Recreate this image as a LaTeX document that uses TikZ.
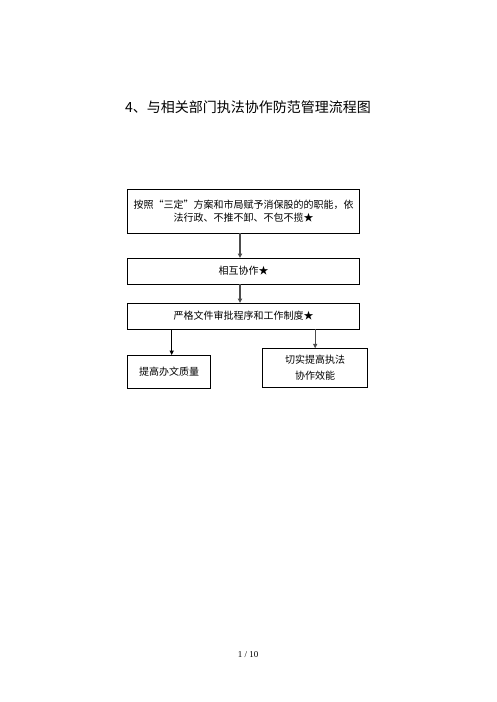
\documentclass[tikz,border=0pt]{standalone}
\usepackage{fontspec}
\setmainfont{Noto Sans CJK SC}
\newfontfamily\pagefont{Liberation Serif}
\usetikzlibrary{arrows.meta}
\tikzset{
  box/.style={draw=black, line width=0.9pt, inner sep=0pt, outer sep=0pt, align=center,
    font=\fontsize{10}{13.4}\selectfont},
  conn/.style={draw=black!70, line width=1.2pt, -{Triangle[length=4.5pt,width=4.2pt]}},
}
\begin{document}
\begin{tikzpicture}[x=1pt,y=-1pt]
\useasboundingbox[fill=white] (0,0) rectangle (496,702);
\node[font=\fontsize{14}{16}\selectfont] (title) at (248,107) {4、与相关部门执法协作防范管理流程图};
\node[box, minimum width=232pt, minimum height=44pt] (b1) at (243.7,211) {按照“三定”方案和市局赋予消保股的的职能，依\\法行政、不推不卸、不包不揽★};
\node[box, minimum width=232pt, minimum height=26pt] (b2) at (243.7,271) {相互协作★};
\node[box, minimum width=232pt, minimum height=26pt] (b3) at (243.7,316) {严格文件审批程序和工作制度★};
\node[box, minimum width=83pt, minimum height=33pt] (b4) at (169,371.5) {提高办文质量};
\node[box, minimum width=105pt, minimum height=39.5pt, font=\fontsize{10}{16}\selectfont] (b5) at (315.2,368) {切实提高执法\\协作效能};
\draw[conn] ([xshift=-3.7pt]b1.south) -- ([xshift=-3.7pt]b2.north);
\draw[conn] ([xshift=-3.7pt]b2.south) -- ([xshift=-3.7pt]b3.north);
\draw[conn, draw=black, line width=1pt] ([xshift=2.7pt]b4.north |- b3.south) -- ([xshift=2.7pt]b4.north);
\draw[conn] (b5.north |- b3.south) -- (b5.north);
\node[font=\pagefont\fontsize{9}{11}\selectfont] (pg) at (248,655) {1 / 10};
\end{tikzpicture}
\end{document}
